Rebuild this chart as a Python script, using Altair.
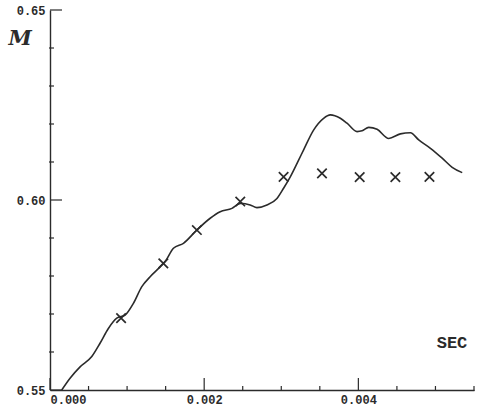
import altair as alt
import pandas as pd

# Curve (smooth line) values
line_x = [0.000152, 0.000260, 0.000390, 0.000542, 0.000649, 0.000757, 0.000866, 0.000974,
          0.001082, 0.001191, 0.001299, 0.001429, 0.001494, 0.001601, 0.001731, 0.001905,
          0.002078, 0.002208, 0.002360, 0.002468, 0.002597, 0.002684, 0.002814, 0.002944,
          0.003030, 0.003117, 0.003225, 0.003290, 0.003419, 0.003549, 0.003636, 0.003766,
          0.003853, 0.003983, 0.004048, 0.004134, 0.004243, 0.004394, 0.004545, 0.004675,
          0.004783, 0.004935, 0.005087, 0.005217, 0.005347]
line_y = [0.5500, 0.5531, 0.5561, 0.5588, 0.5623, 0.5662, 0.5689, 0.5697,
          0.5728, 0.5772, 0.5798, 0.5824, 0.5838, 0.5873, 0.5886, 0.5921,
          0.5952, 0.5969, 0.5978, 0.5991, 0.5987, 0.5980, 0.5987, 0.6004,
          0.6031, 0.6061, 0.6105, 0.6132, 0.6184, 0.6215, 0.6224, 0.6215,
          0.6202, 0.6180, 0.6182, 0.6191, 0.6186, 0.6162, 0.6174, 0.6177,
          0.6158, 0.6136, 0.6110, 0.6086, 0.6072]

# Cross markers
cross_x = [0.000922, 0.00147, 0.001905, 0.002468, 0.00303, 0.003528, 0.004017, 0.00448, 0.004922]
cross_y = [0.5689, 0.5833, 0.5921, 0.5996, 0.6061, 0.6070, 0.6060, 0.6060, 0.6061]

# Axis ticks
x_major = [0.0, 0.002, 0.004]
x_minor = [0.0005, 0.001, 0.0015, 0.0025, 0.003, 0.0035, 0.0045, 0.005, 0.0055]
y_major = [0.55, 0.60, 0.65]
y_minor = [0.56, 0.57, 0.58, 0.59, 0.61, 0.62, 0.63, 0.64]

INK = "#2b2b2b"
FONT = "Liberation Mono"

X0, X1 = 0.0, 0.0055
Y0, Y1 = 0.55, 0.65
W, H = 424, 380
xscale = alt.Scale(domain=[X0, X1], nice=False, zero=False)
yscale = alt.Scale(domain=[Y0, Y1], nice=False, zero=False)

# tick lengths expressed in data units (style)
x_per_px = (X1 - X0) / W
y_per_px = (Y1 - Y0) / H

line_df = pd.DataFrame({"t": line_x, "m": line_y})
cross_df = pd.DataFrame({"t": cross_x, "m": cross_y})

base_line = alt.Chart(line_df).mark_line(
    color=INK, strokeWidth=1.6, interpolate="monotone"
).encode(
    x=alt.X("t:Q", scale=xscale,
            axis=alt.Axis(values=x_major, format=".3f", title=None, ticks=False,
                          grid=False, labelPadding=4, labelFont=FONT, labelFontWeight="bold",
                          labelFontSize=12, labelColor=INK, domainColor=INK, domainWidth=1.4)),
    y=alt.Y("m:Q", scale=yscale,
            axis=alt.Axis(values=y_major, format=".2f", title=None, ticks=False,
                          grid=False, labelPadding=5, labelFont=FONT, labelFontWeight="bold",
                          labelFontSize=12, labelColor=INK, domainColor=INK, domainWidth=1.4)),
)

crosses = alt.Chart(cross_df).mark_point(
    shape="M-1,-1L1,1M-1,1L1,-1", size=90, filled=False, color=INK, strokeWidth=1.7, opacity=1
).encode(x=alt.X("t:Q", scale=xscale), y=alt.Y("m:Q", scale=yscale))

xmaj = alt.Chart(pd.DataFrame({"t": x_major})).mark_rule(color=INK, strokeWidth=1.2).encode(
    x=alt.X("t:Q", scale=xscale), y=alt.datum(Y0), y2=alt.datum(Y0 + 12 * y_per_px))
xmin = alt.Chart(pd.DataFrame({"t": x_minor})).mark_rule(color=INK, strokeWidth=1.2).encode(
    x=alt.X("t:Q", scale=xscale), y=alt.datum(Y0 - 1 * y_per_px), y2=alt.datum(Y0 + 4 * y_per_px))
ymaj = alt.Chart(pd.DataFrame({"m": y_major})).mark_rule(color=INK, strokeWidth=1.2).encode(
    y=alt.Y("m:Q", scale=yscale), x=alt.datum(X0), x2=alt.datum(X0 + 12 * x_per_px))
ymin = alt.Chart(pd.DataFrame({"m": y_minor})).mark_rule(color=INK, strokeWidth=1.2).encode(
    y=alt.Y("m:Q", scale=yscale), x=alt.datum(X0 - 1 * x_per_px), x2=alt.datum(X0 + 4 * x_per_px))

m_label = alt.Chart(pd.DataFrame({"txt": ["M"]})).mark_text(
    font="DejaVu Serif", fontStyle="italic", fontWeight="bold", fontSize=21, color=INK,
    align="center", baseline="middle"
).encode(text="txt:N", x=alt.value(-30), y=alt.value(29))

sec_label = alt.Chart(pd.DataFrame({"txt": ["SEC"]})).mark_text(
    font=FONT, fontWeight="bold", fontSize=17, color=INK, align="center", baseline="middle"
).encode(text="txt:N", x=alt.value(402), y=alt.value(333))

chart = alt.layer(base_line, crosses, xmaj, xmin, ymaj, ymin, m_label, sec_label).properties(
    width=W, height=H,
    autosize=alt.AutoSizeParams(type="none"),
    padding={"left": 50, "top": 10, "right": 9, "bottom": 19},
    background="white",
).configure_view(stroke=None)

chart.save("out.html", embed_options={"renderer": "svg", "actions": False})
